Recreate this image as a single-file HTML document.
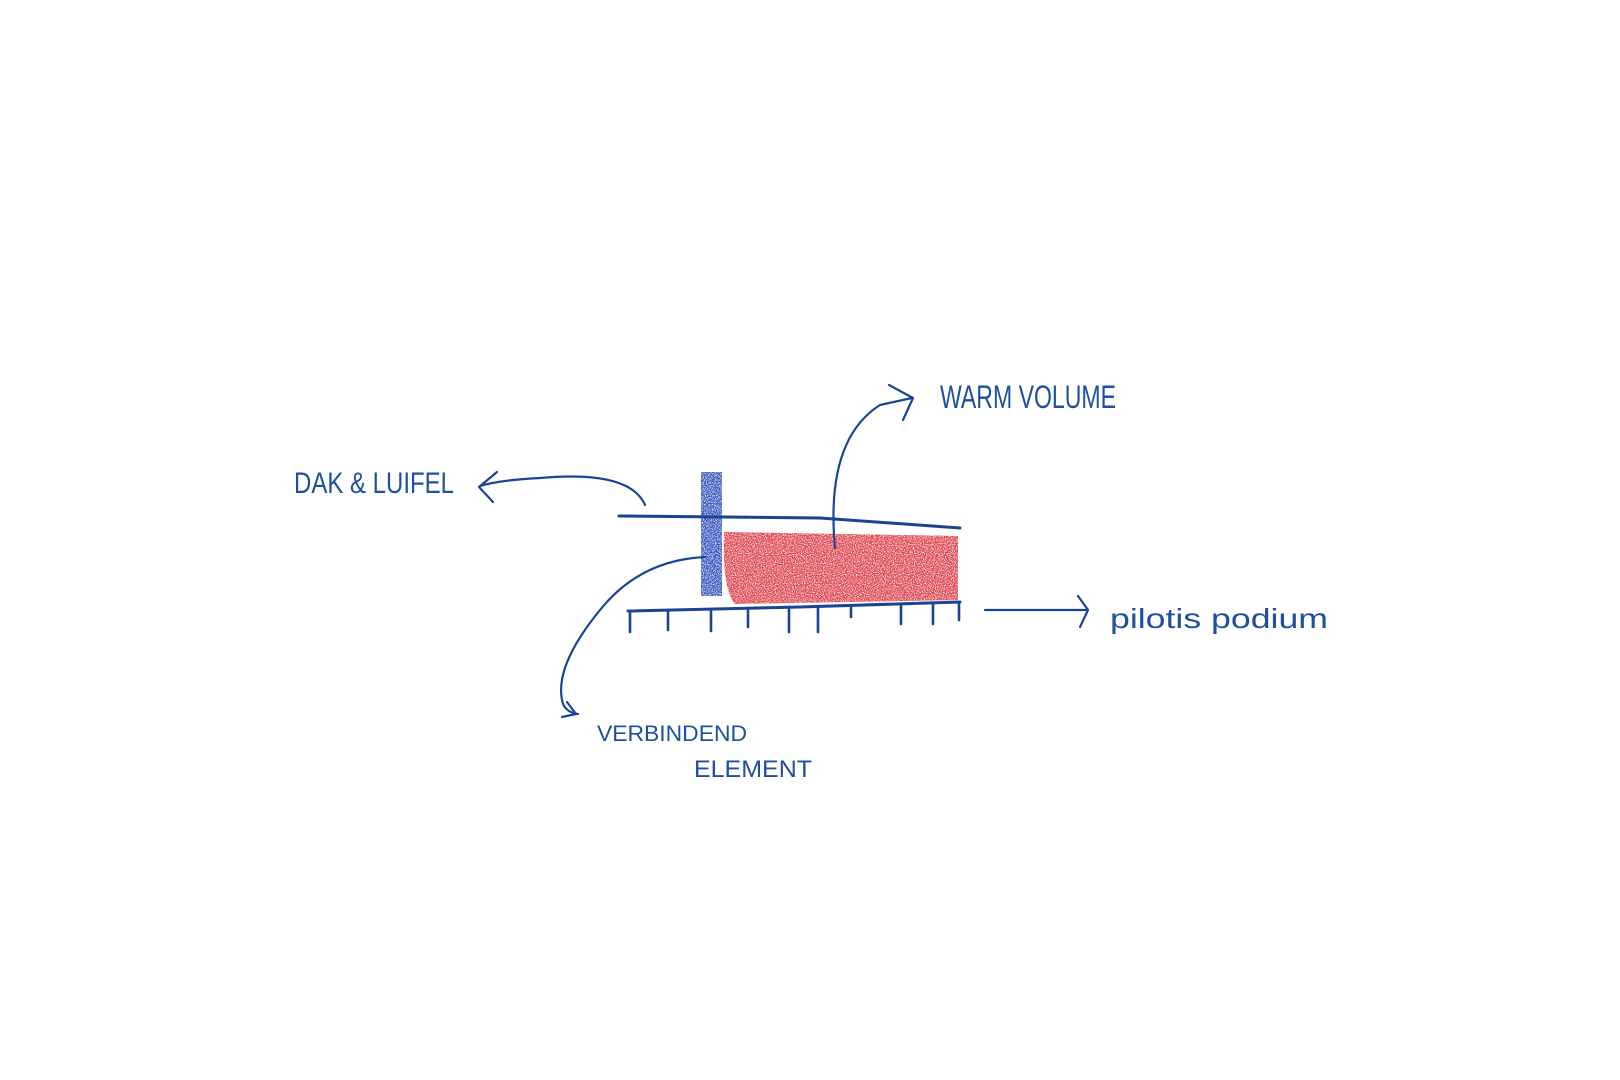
<!DOCTYPE html>
<html><head><meta charset="utf-8"><style>
html,body{margin:0;padding:0;background:#fff}
svg{display:block}
text{font-family:"Liberation Sans",sans-serif;fill:#1f4f9e;font-weight:normal}
</style></head><body>
<svg width="1620" height="1080" viewBox="0 0 1620 1080" xmlns="http://www.w3.org/2000/svg">
<defs>
<filter id="grain" x="0" y="0" width="100%" height="100%">
<feTurbulence type="fractalNoise" baseFrequency="0.9" numOctaves="2" seed="3" result="n"/>
<feColorMatrix in="n" type="matrix" values="0 0 0 0 1  0 0 0 0 1  0 0 0 0 1  0 0 0 -3 1.6" result="m"/>
<feComposite in="m" in2="SourceGraphic" operator="in" result="w"/>
<feMerge><feMergeNode in="SourceGraphic"/><feMergeNode in="w"/></feMerge>
</filter>
</defs>
<rect width="1620" height="1080" fill="#fff"/>
<g stroke="#1b4494" fill="none" stroke-linecap="round" stroke-linejoin="round">
<path d="M724 532 L958 536 L958 600 L735 604 Q722 590 724 532 Z" fill="#e2424f" stroke="none" filter="url(#grain)"/>
<rect x="701" y="472" width="21" height="124" fill="#3658c4" stroke="none" filter="url(#grain)"/>
<path d="M619 516 L820 518 L960 528" stroke-width="3"/>
<path d="M628 611 L800 607 L960 602" stroke-width="3"/>
<g stroke-width="2.6">
<path d="M630 611 V632"/><path d="M668 610 V630"/><path d="M711 609 V631"/><path d="M748 608 V627"/>
<path d="M789 607 V632"/><path d="M818 607 V632"/><path d="M851 607 V617"/><path d="M901 606 V624"/>
<path d="M933 604 V624"/><path d="M959 602 V620"/>
</g>
<path d="M645 505 Q630 470 540 478 Q500 480 480 486" stroke-width="2.2"/>
<path d="M497 472 L479 487 L493 502" stroke-width="2.2"/>
<path d="M835 548 Q825 440 880 405 L912 398" stroke-width="2.2"/>
<path d="M889 385 L913 398 L903 420" stroke-width="2.2"/>
<path d="M985 610 L1086 610" stroke-width="2.2"/>
<path d="M1078 596 L1088 610 L1080 627" stroke-width="2.2"/>
<path d="M705 557 Q640 560 600 610 Q555 665 562 700 Q564 712 578 714" stroke-width="2.2"/>
<path d="M567 702 L576 714 L562 717" stroke-width="2.2"/>
</g>
<text x="294" y="493" font-size="30" textLength="160" lengthAdjust="spacingAndGlyphs">DAK &amp; LUIFEL</text>
<text x="940" y="408" font-size="32" textLength="176" lengthAdjust="spacingAndGlyphs">WARM VOLUME</text>
<text x="1110" y="628" font-size="28" textLength="218" lengthAdjust="spacingAndGlyphs">pilotis podium</text>
<text x="597" y="741" font-size="22" textLength="150" lengthAdjust="spacingAndGlyphs">VERBINDEND</text>
<text x="694" y="777" font-size="24" textLength="118" lengthAdjust="spacingAndGlyphs">ELEMENT</text>
</svg>
</body></html>
